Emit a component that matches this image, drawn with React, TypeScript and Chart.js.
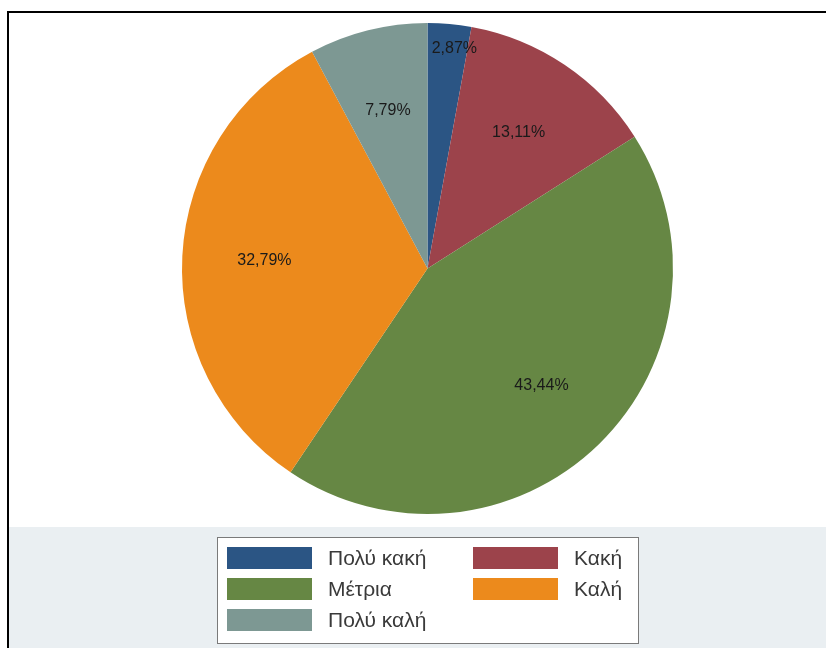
import React, { useEffect, useRef } from "react";
import { Chart, registerables } from "chart.js";

Chart.register(...registerables);

const categories = ["Πολύ κακή", "Κακή", "Μέτρια", "Καλή", "Πολύ καλή"];
const percentages = [2.87, 13.11, 43.44, 32.79, 7.79];
const sliceColors = ["#2b5584", "#9c434b", "#668744", "#ec8a1c", "#7d9893"];
const legendOrder = [0, 1, 2, 3, 4];

const W = 826;
const H = 648;

const backgroundPlugin = {
  id: "bgFrame",
  beforeDraw(chart: any) {
    const ctx = chart.ctx;
    ctx.save();
    ctx.fillStyle = "#ffffff";
    ctx.fillRect(0, 0, W, H);
    ctx.fillStyle = "#eaeff2";
    ctx.fillRect(9, 527, W - 9, H - 527);
    ctx.fillStyle = "#000000";
    ctx.fillRect(7, 11, W - 7, 2);
    ctx.fillRect(7, 11, 2, H - 11);
    ctx.restore();
  },
};

const labelPlugin = {
  id: "sliceLabels",
  afterDatasetsDraw(chart: any) {
    const ctx = chart.ctx;
    const meta = chart.getDatasetMeta(0);
    const data = chart.data.datasets[0].data as number[];
    const total = data.reduce((a: number, b: number) => a + b, 0);
    ctx.save();
    ctx.font = "16px 'Liberation Sans', Arial, sans-serif";
    ctx.fillStyle = "#1a1a1a";
    ctx.textAlign = "center";
    ctx.textBaseline = "middle";
    meta.data.forEach((arc: any, i: number) => {
      const p = arc.getProps(["x", "y", "startAngle", "endAngle", "outerRadius"], true);
      const mid = (p.startAngle + p.endAngle) / 2;
      const share = (data[i] / total) * 100;
      const small = share < 5;
      const r = p.outerRadius * (small ? 0.9 : 0.665);
      const x = p.x + Math.cos(mid) * r + (small ? 7 : 0);
      const y = p.y + Math.sin(mid) * r;
      const txt = data[i].toFixed(2).replace(".", ",") + "%";
      ctx.fillText(txt, x, y);
    });
    ctx.restore();
  },
  afterDraw(chart: any) {
    const ctx = chart.ctx;
    const colors = chart.data.datasets[0].backgroundColor as string[];
    const labels = chart.data.labels as string[];
    ctx.save();
    ctx.fillStyle = "#ffffff";
    ctx.fillRect(217, 537, 421, 106);
    ctx.strokeStyle = "#7a7a7a";
    ctx.lineWidth = 1;
    ctx.strokeRect(217.5, 537.5, 421, 106);
    ctx.font = "21px 'Liberation Sans', Arial, sans-serif";
    ctx.textAlign = "left";
    ctx.textBaseline = "middle";
    const colX = [227, 473];
    const rowY = [547, 578, 609];
    legendOrder.forEach((idx, k) => {
      const col = k % 2;
      const row = Math.floor(k / 2);
      const x = colX[col];
      const y = rowY[row];
      ctx.fillStyle = colors[idx];
      ctx.fillRect(x, y, 85, 22);
      ctx.fillStyle = "#3a3a3a";
      ctx.fillText(labels[idx], x + 101, y + 12);
    });
    ctx.restore();
  },
};

export default function App() {
  const ref = useRef<HTMLCanvasElement | null>(null);
  useEffect(() => {
    if (!ref.current) return;
    const chart = new Chart(ref.current, {
      type: "pie",
      data: {
        labels: categories,
        datasets: [
          {
            data: percentages,
            backgroundColor: sliceColors,
            borderWidth: 0,
          },
        ],
      },
      options: {
        responsive: false,
        animation: false,
        devicePixelRatio: 1,
        layout: { padding: { left: 182, right: 153, top: 23, bottom: 134 } },
        plugins: {
          legend: { display: false },
          tooltip: { enabled: false },
        },
      },
      plugins: [backgroundPlugin, labelPlugin],
    });
    return () => chart.destroy();
  }, []);
  return (
    <div style={{ position: "absolute", left: 0, top: 0, width: W, height: H }}>
      <canvas ref={ref} width={W} height={H} style={{ display: "block", width: W, height: H }} />
    </div>
  );
}
